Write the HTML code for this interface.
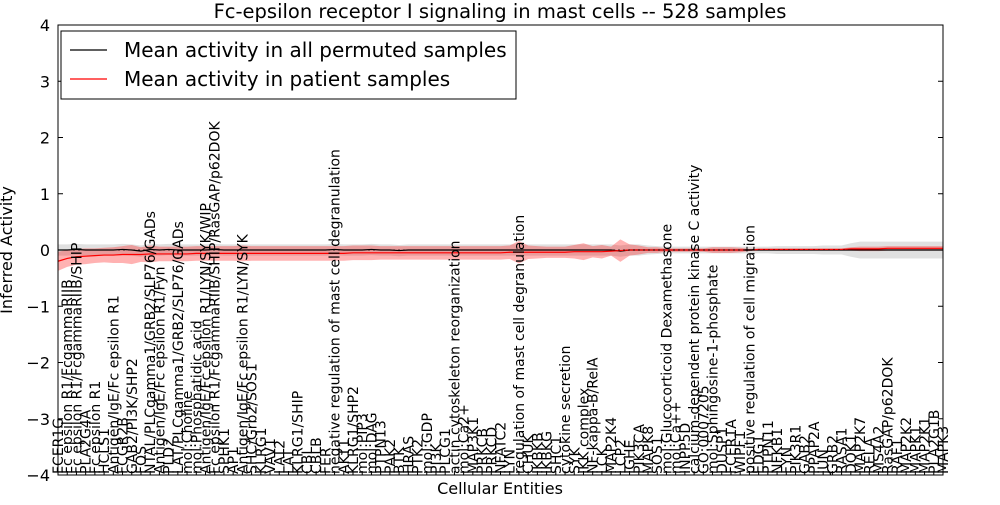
<!DOCTYPE html>
<html><head><meta charset="utf-8"><style>
body{margin:0;background:#fff;}
svg text{font-family:"DejaVu Sans","Liberation Sans",sans-serif;}
</style></head><body>
<svg id="chart" width="1000" height="500">
<rect width="1000" height="500" fill="#fff"/>
<text x="500" y="18" font-size="19.5" text-anchor="middle">Fc-epsilon receptor I signaling in mast cells -- 528 samples</text>
<g id="bands"></g><g id="lines"></g><g id="ticks"></g><g id="xlabels"></g>
<rect x="58" y="25" width="885" height="450" fill="none" stroke="#000" stroke-width="1"/>
<text x="12" y="250" font-size="16" text-anchor="middle" transform="rotate(-90 12 250)">Inferred Activity</text>
<text x="500" y="494" font-size="16" text-anchor="middle">Cellular Entities</text>
<g>
<rect x="61" y="31" width="455" height="68" fill="#fff" stroke="#000"/>
<line x1="70" y1="50" x2="107" y2="50" stroke="#000" stroke-width="1.2"/>
<text x="124" y="57" font-size="20">Mean activity in all permuted samples</text>
<line x1="70" y1="79" x2="107" y2="79" stroke="red" stroke-width="1.2"/>
<text x="124" y="86" font-size="20">Mean activity in patient samples</text>
</g>
</svg>
<script>
const entities=["FCER1G","Fc epsilon R1/FcgammaRIIB","Fc epsilon R1/FcgammaRIIB/SHIP","PLA2G4A","Fc epsilon R1","HCLS1","Antigen/IgE/Fc epsilon R1","FCGR2B","GAB2/PI3K/SHP2","FOS","NTAL/PLCgamma1/GRB2/SLP76/GADs","Antigen/IgE/Fc epsilon R1/Fyn","PLD2","LAT/PLCgamma1/GRB2/SLP76/GADs","mol:Choline","mol:Phosphatidic acid","Antigen/IgE/Fc epsilon R1/LYN/SYK/WIP","Fc epsilon R1/FcgammaRIIB/SHIP/RasGAP/p62DOK","SPHK1","AP1","Antigen/IgE/Fc epsilon R1/LYN/SYK","SHC/Grb2/SOS1","KLRG1","VAV1","LAT2","LAT","KLRG1/SHIP","CBL","CBLB","FER","negative regulation of mast cell degranulation","AKT1","KLRG1/SHP2","mol:PIP3","mol:DAG","PTPN13","PAK2","BTK","HRAS","PTK2","mol:GDP","PI3K","PLCG1","actin cytoskeleton reorganization","mol:Ca2+","MAP3K1","PRKCB","PRKCD","NFATC2","LYN","regulation of mast cell degranulation","CHUK","IKBKB","IKBKG","SHC1","cytokine secretion","SYK","IKK complex","NF-kappa-B/RelA","LCK","MAP2K4","LCP2","IGHE","PIK3CA","MAPK8","SOS1","mol:Glucocorticoid Dexamethasone","mol:Ca++","INPP5D","calcium-dependent protein kinase C activity","GO:0007205","mol:Sphingosine-1-phosphate","DUSP1","FCER1A","WIPF1","positive regulation of cell migration","EDG1","PTPN11","NFKB1","FYN","PIK3R1","GAB2","PPAP2A","JUN","GRB2","RASA1","DOK1","MAP2K7","RELA","MS4A2","RasGAP/p62DOK","RAF1","MAP2K2","MAPK1","MAP2K1","PLA2G1B","MAPK3"];
const patientMean=[-0.2,-0.15,-0.12,-0.11,-0.1,-0.09,-0.09,-0.08,-0.08,-0.08,-0.07,-0.07,-0.07,-0.07,-0.07,-0.06,-0.06,-0.06,-0.06,-0.06,-0.06,-0.06,-0.06,-0.06,-0.06,-0.06,-0.06,-0.06,-0.06,-0.06,-0.06,-0.06,-0.05,-0.05,-0.05,-0.05,-0.05,-0.05,-0.05,-0.05,-0.05,-0.05,-0.05,-0.05,-0.05,-0.05,-0.05,-0.05,-0.05,-0.04,-0.04,-0.04,-0.04,-0.04,-0.04,-0.04,-0.03,-0.03,-0.03,-0.03,-0.02,-0.01,0,0,0,0,0,0,0,0,0,0,0,0,0,0,0.01,0.01,0.01,0.01,0.01,0.01,0.01,0.01,0.01,0.01,0.02,0.02,0.02,0.02,0.03,0.03,0.03,0.03,0.03,0.03,0.03];
const patientSpread=[0.17,0.15,0.14,0.14,0.13,0.13,0.14,0.15,0.17,0.13,0.15,0.13,0.13,0.13,0.13,0.13,0.13,0.13,0.13,0.13,0.14,0.13,0.13,0.13,0.13,0.13,0.13,0.13,0.13,0.13,0.13,0.13,0.13,0.13,0.13,0.12,0.12,0.12,0.12,0.12,0.12,0.12,0.12,0.12,0.12,0.12,0.12,0.12,0.12,0.12,0.2,0.12,0.11,0.1,0.1,0.1,0.12,0.15,0.1,0.12,0.08,0.2,0.1,0.08,0.05,0.05,0.03,0.03,0.03,0.03,0.03,0.05,0.05,0.05,0.04,0.02,0.02,0.02,0.02,0.02,0.02,0.02,0.02,0.02,0.02,0.02,0.03,0.04,0.04,0.04,0.04,0.04,0.04,0.04,0.04,0.04,0.04];
const permutedMean=[0,0,0.01,0,0,0,0,0.01,0,-0.02,0.01,0,0.01,0,0,0,0,0.01,0,0,0,0,0,0,0,0,0,0,0,0,0.01,0,0,0,0.01,0,0,-0.01,0,0,0,0,0,0,0,0,0,0,0,0,0,0,0,0,0,0,0,0,0,0,0,-0.02,0,0,0,0,0,0,0,0,0,0,0,0,0,0,0,0,0,0,0,0,0,0,0,0,0,0,0,0,0,0,0,0,0,0,0];
const permutedSpread=[0.1,0.1,0.1,0.1,0.1,0.1,0.1,0.1,0.1,0.1,0.1,0.1,0.1,0.1,0.1,0.1,0.1,0.1,0.1,0.1,0.1,0.1,0.1,0.1,0.1,0.1,0.1,0.1,0.1,0.1,0.1,0.1,0.1,0.1,0.1,0.1,0.1,0.1,0.1,0.1,0.1,0.1,0.1,0.1,0.1,0.1,0.1,0.1,0.1,0.1,0.1,0.1,0.1,0.1,0.1,0.1,0.1,0.1,0.1,0.1,0.1,0.1,0.1,0.1,0.08,0.07,0.06,0.06,0.06,0.06,0.06,0.06,0.06,0.06,0.06,0.06,0.06,0.06,0.07,0.07,0.07,0.07,0.07,0.08,0.08,0.08,0.12,0.15,0.15,0.15,0.15,0.15,0.15,0.15,0.15,0.15,0.15];
const yTicks=[-4,-3,-2,-1,0,1,2,3,4];
const NS="http://www.w3.org/2000/svg";
const L=58,R=943,T=25,B=475;
const n=entities.length;
const m=Math.min(n,patientMean.length,patientSpread.length,permutedMean.length,permutedSpread.length);
const xs=i=>L+i*(R-L)/(n-1);
const ys=v=>T+(4-v)*(B-T)/8;
function mk(tag,attrs,parent){const e=document.createElementNS(NS,tag);for(const k in attrs)e.setAttribute(k,attrs[k]);parent.appendChild(e);return e;}
const bands=document.getElementById('bands'),lines=document.getElementById('lines'),ticks=document.getElementById('ticks'),xl=document.getElementById('xlabels');
function band(mean,spr,fill,op,name){let up=[],dn=[];for(let i=0;i<m;i++){up.push(xs(i)+','+ys(mean[i]+spr[i]));dn.unshift(xs(i)+','+ys(mean[i]-spr[i]));}
const p=mk('polygon',{points:up.concat(dn).join(' '),fill:fill,'fill-opacity':op},bands);

}
band(permutedMean,permutedSpread,'#999',0.3,'permuted-band');
band(patientMean,patientSpread,'#f00',0.3,'patient-band');
function line(mean,col,name){const pts=mean.slice(0,m).map((v,i)=>xs(i)+','+ys(v)).join(' ');const p=mk('polyline',{points:pts,fill:'none',stroke:col,'stroke-width':1.2},lines);

}
line(permutedMean,'#000','permuted-mean-line');
line(patientMean,'#f00','patient-mean-line');
mk('line',{x1:L,x2:R,y1:ys(0),y2:ys(0),stroke:'#000','stroke-dasharray':'2,3','stroke-width':0.8},lines);
yTicks.forEach(v=>{const y=ys(v);mk('line',{x1:L,x2:L+5,y1:y,y2:y,stroke:'#000'},ticks);mk('line',{x1:R-5,x2:R,y1:y,y2:y,stroke:'#000'},ticks);
const t=mk('text',{x:L-8,y:y+6,'font-size':16,'text-anchor':'end'},ticks);t.textContent=v<0?'\u2212'+(-v):v;

});
entities.forEach((s,i)=>{const x=xs(i);mk('line',{x1:x,x2:x,y1:B,y2:B-4,stroke:'#000'},ticks);
const t=mk('text',{x:0,y:0,'font-size':14,transform:`translate(${x+5},${B-1}) rotate(-90)`},xl);t.textContent=s;

});
</script>
</body></html>
